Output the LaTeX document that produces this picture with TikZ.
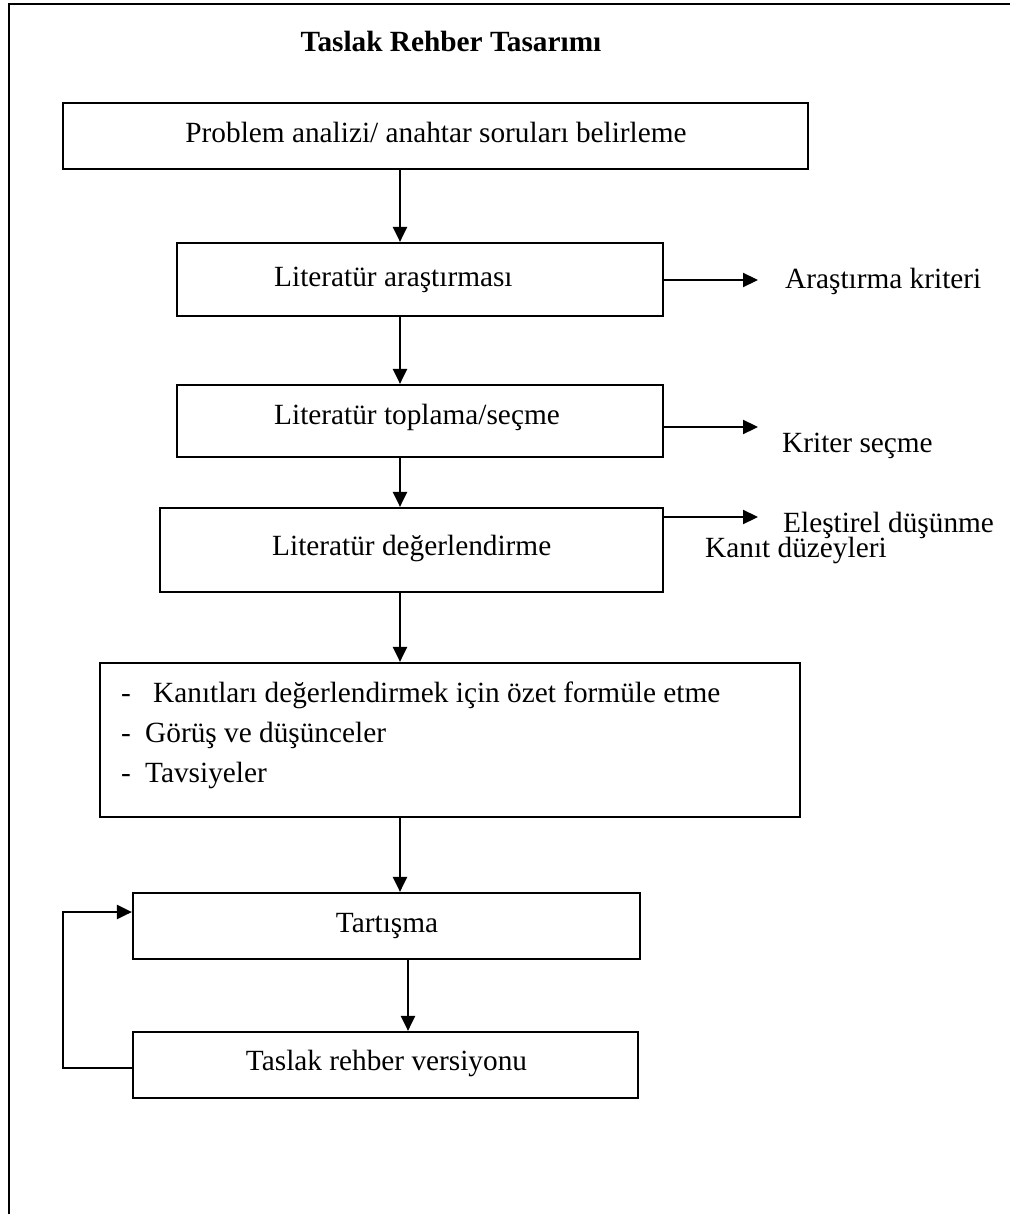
\documentclass[tikz,border=0pt]{standalone}
\usepackage{fontspec}
\setmainfont{Liberation Serif}
\usetikzlibrary{arrows.meta}
\begin{document}
\begin{tikzpicture}[x=1pt,y=-1pt,
  box/.style={draw, line width=2.2pt, rectangle, inner sep=0pt},
  txt/.style={inner sep=0pt, font=\fontsize{29.3}{40}\selectfont},
  arr/.style={line width=2.2pt, -{Triangle[length=15pt,width=14pt]}},
  ln/.style={line width=2.4pt}]
\useasboundingbox (0,0) rectangle (1010,1214);
% outer frame (open at right and bottom)
\coordinate (fa) at (9,1214);
\coordinate (fb) at (9,4);
\coordinate (fc) at (1010,4);
\draw[ln] (fa) -- (fb) -- (fc);
% title
\node[txt, anchor=base, font=\fontsize{29.3}{40}\selectfont\bfseries] (title) at (451,52) {Taslak Rehber Tasarımı};
% boxes
\node[box, minimum width=745pt, minimum height=66pt] (b1) at (435.5,136) {};
\node[box, minimum width=486pt, minimum height=73pt] (b2) at (420,279.5) {};
\node[box, minimum width=486pt, minimum height=72pt] (b3) at (420,421) {};
\node[box, minimum width=503pt, minimum height=84pt] (b4) at (411.5,550) {};
\node[box, minimum width=700pt, minimum height=154pt] (b5) at (450,740) {};
\node[box, minimum width=507pt, minimum height=66pt] (b6) at (386.5,926) {};
\node[box, minimum width=505pt, minimum height=66pt] (b7) at (385.5,1065) {};
% box texts
\node[txt, anchor=base] (t1) at (436,143) {Problem analizi/ anahtar soruları belirleme};
\node[txt, anchor=base west] (t2) at (274,287) {Literatür araştırması};
\node[txt, anchor=base west] (t3) at (274,424) {Literatür toplama/seçme};
\node[txt, anchor=base west] (t4) at (272,555) {Literatür değerlendirme};
\node[txt, anchor=base west] (t5a) at (121,702) {\makebox[32pt][l]{-}Kanıtları değerlendirmek için özet formüle etme};
\node[txt, anchor=base west] (t5b) at (121,742) {\makebox[24pt][l]{-}Görüş ve düşünceler};
\node[txt, anchor=base west] (t5c) at (121,782) {\makebox[24pt][l]{-}Tavsiyeler};
\node[txt, anchor=base] (t6) at (387,932) {Tartışma};
\node[txt, anchor=base] (t7) at (386.5,1070) {Taslak rehber versiyonu};
% side labels
\node[txt, anchor=base west] (s2) at (785,288) {Araştırma kriteri};
\node[txt, anchor=base west] (s3) at (782,452) {Kriter seçme};
\node[txt, anchor=base west] (s4a) at (783,532) {Eleştirel düşünme};
\node[txt, anchor=base west] (s4b) at (705,557) {Kanıt düzeyleri};
% vertical connectors
\coordinate (vx) at (400,0);
\coordinate (vy) at (408,0);
\draw[arr] (vx |- b1.south) -- (vx |- b2.north);
\draw[arr] (vx |- b2.south) -- (vx |- b3.north);
\draw[arr] (vx |- b3.south) -- (vx |- b4.north);
\draw[arr] (vx |- b4.south) -- (vx |- b5.north);
\draw[arr] (vx |- b5.south) -- (vx |- b6.north);
\draw[arr] (vy |- b6.south) -- (vy |- b7.north);
% side arrows
\coordinate (e2) at (758,280);
\coordinate (e3) at (758,427);
\coordinate (e4) at (758,517);
\draw[arr] (b2.east |- e2) -- (e2);
\draw[arr] (b3.east |- e3) -- (e3);
\draw[arr] (b4.east |- e4) -- (e4);
% feedback loop
\coordinate (l1) at (63,1068);
\coordinate (l2) at (63,912);
\draw[arr] (b7.west |- l1) -- (l1) -- (l2) -- (b6.west |- l2);
\end{tikzpicture}
\end{document}
